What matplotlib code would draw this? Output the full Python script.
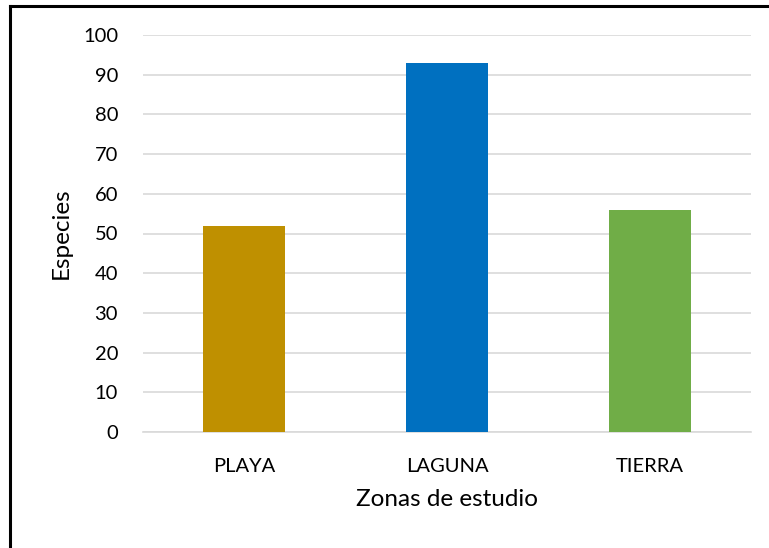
import matplotlib
matplotlib.use("Agg")
import matplotlib.pyplot as plt
from matplotlib.lines import Line2D

categories = ["PLAYA", "LAGUNA", "TIERRA"]
values = [52, 93, 56]
colors = ["#BF9000", "#0070C0", "#70AD47"]
yticks = [0, 10, 20, 30, 40, 50, 60, 70, 80, 90, 100]

plt.rcParams['font.family'] = ['Lato', 'DejaVu Sans']

fig = plt.figure(figsize=(7.69, 5.48), dpi=100)
ax = fig.add_axes([143/769, 1-432/548, 608/769, 397/548])

x = list(range(len(categories)))
ax.bar(x, values, width=0.405, color=colors, zorder=3)
ax.set_xlim(-0.5, 2.5)
ax.set_ylim(0, 100)
ax.set_yticks(yticks)
ax.set_xticks(x)
ax.set_xticklabels(categories)
ax.grid(axis='y', color='#D9D9D9', linewidth=1.2, zorder=0)
for s in ['top', 'right', 'left']:
    ax.spines[s].set_visible(False)
ax.spines['bottom'].set_color('#D9D9D9')
ax.spines['bottom'].set_linewidth(1.2)
ax.tick_params(axis='both', length=0, labelsize=14.5, colors='black')
ax.tick_params(axis='y', pad=18)
ax.tick_params(axis='x', pad=19)
ax.set_ylabel("Especies", fontsize=17.5, labelpad=8)
ax.set_xlabel("Zonas de estudio", fontsize=17.5, labelpad=10)

# outer frame (left and top only visible)
fig.add_artist(Line2D([10/769, 10/769], [0, 1-6/548], transform=fig.transFigure, color='black', linewidth=2.2))
fig.add_artist(Line2D([10/769, 1], [1-6/548, 1-6/548], transform=fig.transFigure, color='black', linewidth=2.2))

fig.savefig("out.png", dpi=100)
